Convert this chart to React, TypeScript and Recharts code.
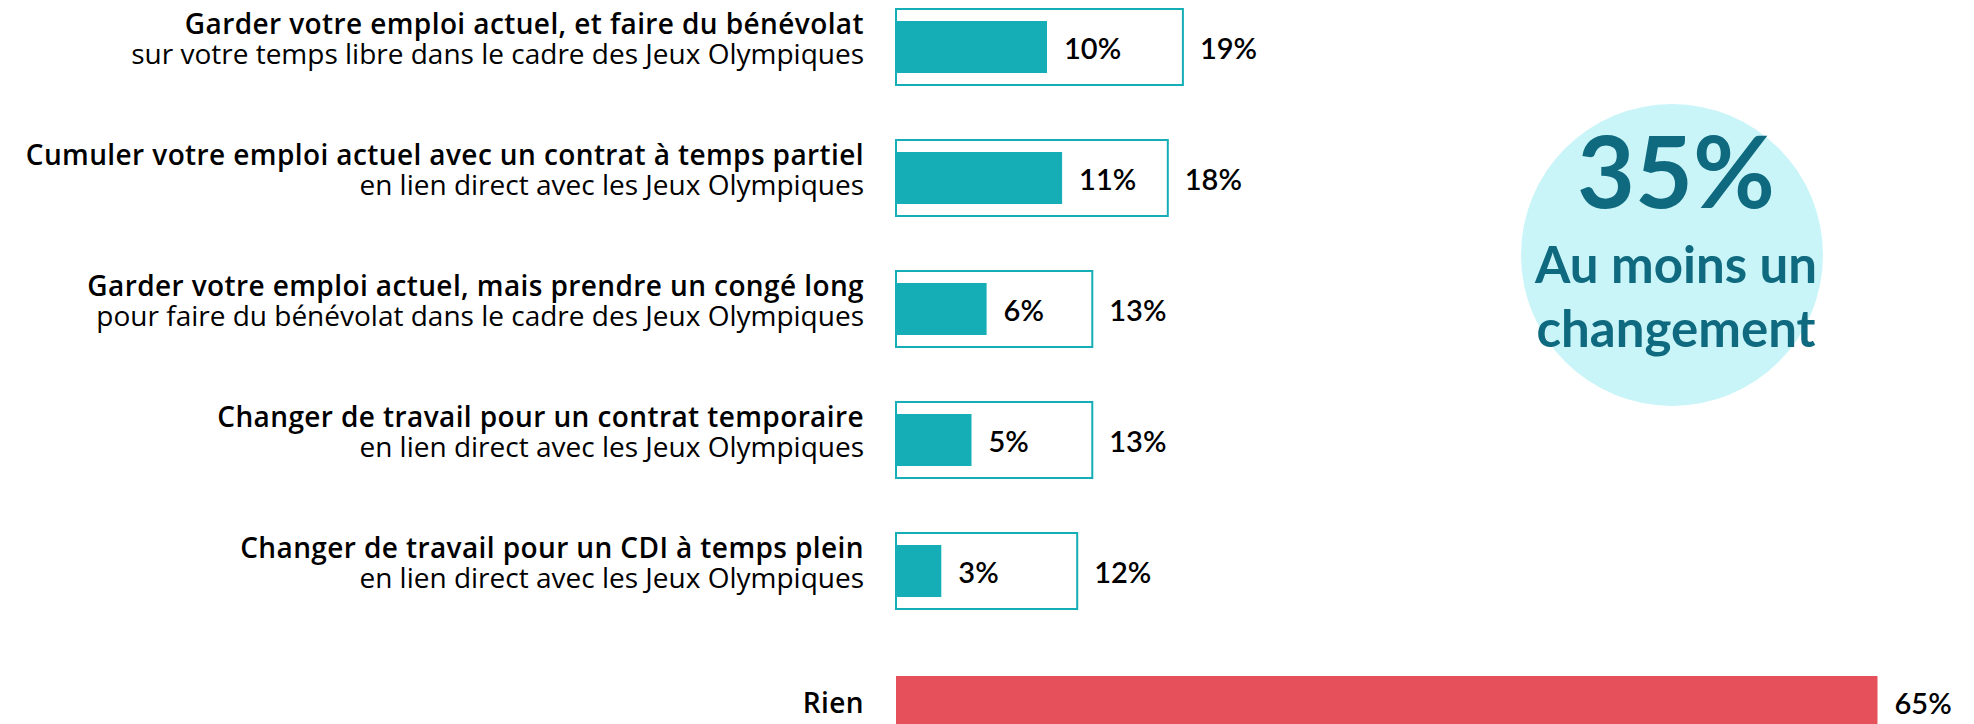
import { BarChart, Bar, XAxis, YAxis, Cell, LabelList } from "recharts";

const titles = [
  "Garder votre emploi actuel, et faire du bénévolat",
  "Cumuler votre emploi actuel avec un contrat à temps partiel",
  "Garder votre emploi actuel, mais prendre un congé long",
  "Changer de travail pour un contrat temporaire",
  "Changer de travail pour un CDI à temps plein",
  "Rien",
];
const subtitles = [
  "sur votre temps libre dans le cadre des Jeux Olympiques",
  "en lien direct avec les Jeux Olympiques",
  "pour faire du bénévolat dans le cadre des Jeux Olympiques",
  "en lien direct avec les Jeux Olympiques",
  "en lien direct avec les Jeux Olympiques",
  "",
];
// first choice / any choice (%)
const firstChoice = [10, 11, 6, 5, 3, 65];
const anyChoice: (number | null)[] = [19, 18, 13, 13, 12, null];

const TEAL = "#15aeb7";
const RED = "#e5505a";
const DARK = "#0f6a80";
const FONT = "Lato, 'Open Sans', sans-serif";
const LABEL_FONT = "'Open Sans', Lato, sans-serif";

const data = titles.map((t, i) => ({
  name: t,
  sub: subtitles[i],
  first: firstChoice[i],
  any: anyChoice[i],
}));

const CategoryTick = (props: any) => {
  const { x, y, payload, index } = props;
  const sub = subtitles[index] ?? "";
  const tx = x - 24;
  if (!sub) {
    return (
      <text x={tx} y={y} textAnchor="end" dominantBaseline="central" fontFamily={LABEL_FONT} fontSize={28} fontWeight={600} letterSpacing={0.4} fill="#000">
        {payload.value}
      </text>
    );
  }
  // one text element, two lines: bold title + regular subtitle
  return (
    <text x={tx} y={y - 13} textAnchor="end" fontFamily={LABEL_FONT} fontSize={28} fill="#000">
      <tspan x={tx} fontWeight={600} letterSpacing={0.4}>
        {payload.value}
      </tspan>
      <tspan x={tx} dy={30} fontWeight={400}>
        {sub}
      </tspan>
    </text>
  );
};

const ValueLabel = (props: any) => {
  const { x, y, width, height, value } = props;
  if (value === null || value === undefined) return null;
  return (
    <text
      x={x + width + 17}
      y={y + height / 2}
      dominantBaseline="central"
      fontFamily={FONT}
      fontSize={29}
      fontWeight={600}
      fill="#000"
    >
      {value}%
    </text>
  );
};

export default function App() {
  return (
    <div style={{ position: "absolute", left: 0, top: 0, width: 1974, height: 724, overflow: "hidden", background: "#fff" }}>
      <div style={{ position: "absolute", left: 0, top: -19 }}>
        <BarChart
          width={1974}
          height={786}
          data={data}
          layout="vertical"
          margin={{ top: 0, right: 21, bottom: 0, left: 0 }}
        >
          <XAxis type="number" domain={[0, 70]} hide />
          <YAxis
            yAxisId="a"
            type="category"
            dataKey="name"
            width={896}
            axisLine={false}
            tickLine={false}
            tick={<CategoryTick />}
            interval={0}
          />
          <YAxis yAxisId="b" type="category" dataKey="name" hide />
          <Bar
            yAxisId="b"
            dataKey="any"
            barSize={76}
            fill="#fff"
            stroke={TEAL}
            strokeWidth={2}
            isAnimationActive={false}
          >
            <LabelList dataKey="any" content={<ValueLabel />} />
          </Bar>
          <Bar yAxisId="a" dataKey="first" barSize={52} isAnimationActive={false}>
            {data.map((d, i) => (
              <Cell key={`c-${i}`} fill={d.name === "Rien" ? RED : TEAL} />
            ))}
            <LabelList dataKey="first" content={<ValueLabel />} />
          </Bar>
        </BarChart>
      </div>
      <svg width={1974} height={724} style={{ position: "absolute", left: 0, top: 0, pointerEvents: "none" }}>
        <circle cx={1672} cy={255} r={151} fill="#c9f5f8" />
        <text x={1676} y={208} textAnchor="middle" fontFamily={FONT} fontSize={100} fontWeight={700} fill={DARK}>
          35%
        </text>
        <text x={1676} y={283} textAnchor="middle" fontFamily={FONT} fontSize={51} fontWeight={700} fill={DARK}>
          Au moins un
        </text>
        <text x={1676} y={347} textAnchor="middle" fontFamily={FONT} fontSize={51} fontWeight={700} fill={DARK}>
          changement
        </text>
      </svg>
    </div>
  );
}
